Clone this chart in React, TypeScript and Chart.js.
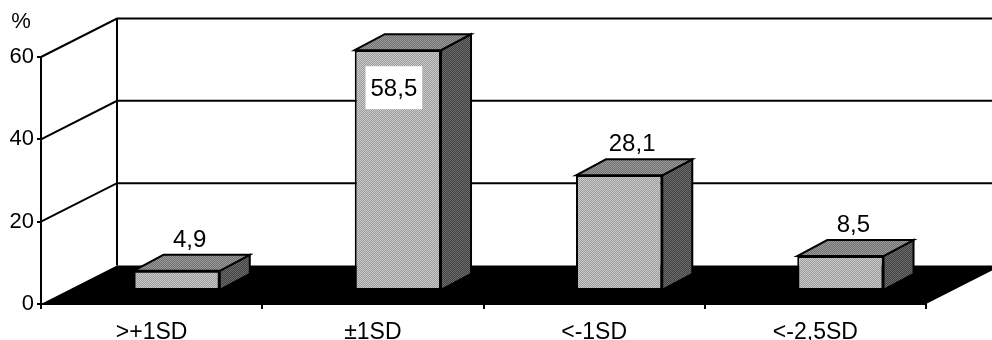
import React, { useEffect, useRef } from "react";
import { Chart, registerables } from "chart.js";

Chart.register(...registerables);

// Share of children per SD band
const categories = [">+1SD", "±1SD", "<-1SD", "<-2,5SD"];
const percentages = [4.9, 58.5, 28.1, 8.5];
const yTickValues = [0, 20, 40, 60];
const yUnit = "%";

const FONT = '"Liberation Sans", Arial, Helvetica, sans-serif';
const AXIS_FONT_SIZE = 22;
const CATEGORY_FONT_SIZE = 23;
const LABEL_FONT_SIZE = 24;

// Depth of the floor / side wall box (screen offset of the back plane)
const WALL_DX = 76;
const WALL_DY = -38.5;
// Bars stand inside the box: front face shift, then their own depth
const BAR_SHIFT_X = 25;
const BAR_SHIFT_Y = -13;
const BAR_DX = 30;
const BAR_DY = -16;

const formatValue = (v: number) => v.toFixed(1).replace(".", ",");

function dither(a: string, b: string): CanvasPattern | string {
  const c = document.createElement("canvas");
  c.width = 2;
  c.height = 2;
  const g = c.getContext("2d");
  if (!g) return a;
  g.fillStyle = a;
  g.fillRect(0, 0, 2, 2);
  g.fillStyle = b;
  g.fillRect(0, 0, 1, 1);
  g.fillRect(1, 1, 1, 1);
  return g.createPattern(c, "repeat") || a;
}

export default function App() {
  const canvasRef = useRef<HTMLCanvasElement | null>(null);

  useEffect(() => {
    const canvas = canvasRef.current;
    if (!canvas) return;

    const frontFill = dither("#9c9c9c", "#cacaca");
    const topFill = dither("#707070", "#9a9a9a");
    const sideFill = dither("#424242", "#6c6c6c");

    const box3d = {
      id: "box3d",
      beforeDatasetsDraw(chart: any) {
        const { ctx, chartArea, scales } = chart;
        const y = scales.y;
        const left = chartArea.left;
        const right = chartArea.right;
        const y0 = y.getPixelForValue(0);
        const yMax = y.getPixelForValue(yTickValues[yTickValues.length - 1]);

        ctx.save();
        // floor
        ctx.fillStyle = "#000";
        ctx.beginPath();
        ctx.moveTo(left, y0);
        ctx.lineTo(left + WALL_DX, y0 + WALL_DY);
        ctx.lineTo(right + WALL_DX, y0 + WALL_DY);
        ctx.lineTo(right, y0);
        ctx.closePath();
        ctx.fill();

        // side wall and back wall grid
        ctx.strokeStyle = "#000";
        ctx.lineWidth = 2;
        ctx.beginPath();
        ctx.moveTo(left + WALL_DX, yMax + WALL_DY);
        ctx.lineTo(left + WALL_DX, y0 + WALL_DY);
        for (const v of yTickValues) {
          if (v === 0) continue;
          const py = y.getPixelForValue(v);
          ctx.moveTo(left, py);
          ctx.lineTo(left + WALL_DX, py + WALL_DY);
          ctx.lineTo(right + WALL_DX, py + WALL_DY);
        }
        ctx.stroke();

        // unit above the value axis
        ctx.fillStyle = "#000";
        ctx.font = `${AXIS_FONT_SIZE}px ${FONT}`;
        ctx.textAlign = "center";
        ctx.textBaseline = "middle";
        ctx.fillText(yUnit, 21, 22);
        ctx.restore();

        // front faces are drawn by the bar controller in the shifted plane
        ctx.save();
        ctx.translate(BAR_SHIFT_X, BAR_SHIFT_Y);
      },
      afterDatasetsDraw(chart: any) {
        const { ctx, chartArea } = chart;
        ctx.restore();

        const meta = chart.getDatasetMeta(0);
        const values = chart.data.datasets[0].data as number[];
        ctx.save();
        ctx.strokeStyle = "#000";
        ctx.lineWidth = 2;
        ctx.lineJoin = "miter";
        meta.data.forEach((el: any, i: number) => {
          const fx = el.x + BAR_SHIFT_X;
          const half = el.width / 2;
          const l = fx - half;
          const r = fx + half;
          const top = el.y + BAR_SHIFT_Y;
          const bot = el.base + BAR_SHIFT_Y;

          // right side
          ctx.fillStyle = sideFill;
          ctx.beginPath();
          ctx.moveTo(r, top);
          ctx.lineTo(r + BAR_DX, top + BAR_DY);
          ctx.lineTo(r + BAR_DX, bot + BAR_DY);
          ctx.lineTo(r, bot);
          ctx.closePath();
          ctx.fill();
          ctx.stroke();

          // top
          ctx.fillStyle = topFill;
          ctx.beginPath();
          ctx.moveTo(l, top);
          ctx.lineTo(l + BAR_DX, top + BAR_DY);
          ctx.lineTo(r + BAR_DX, top + BAR_DY);
          ctx.lineTo(r, top);
          ctx.closePath();
          ctx.fill();
          ctx.stroke();

          // value label
          const text = formatValue(values[i]);
          ctx.font = `${LABEL_FONT_SIZE}px ${FONT}`;
          ctx.textAlign = "center";
          ctx.textBaseline = "alphabetic";
          const capH = LABEL_FONT_SIZE * 0.72;
          const baseline = top + BAR_DY - 8;
          const wallTop = chartArea.top + WALL_DY;
          if (baseline - capH < wallTop) {
            // no room above: put it on the front face in a white box
            const w = ctx.measureText(text).width + 10;
            const h = 43;
            const cx = fx - 4;
            const by = top + 16;
            ctx.fillStyle = "#fff";
            ctx.fillRect(cx - w / 2, by, w, h);
            ctx.fillStyle = "#000";
            ctx.fillText(text, cx, by + h / 2 + capH / 2);
          } else {
            ctx.fillStyle = "#000";
            ctx.fillText(text, fx + BAR_DX / 2 - 2, baseline);
          }
        });
        ctx.restore();
      },
    };

    const chart = new Chart(canvas, {
      type: "bar",
      data: {
        labels: categories,
        datasets: [
          {
            data: percentages,
            backgroundColor: frontFill as any,
            borderColor: "#000",
            borderWidth: 2,
            borderSkipped: false,
            categoryPercentage: 1,
            barPercentage: 0.39,
            clip: false as any,
          },
        ],
      },
      options: {
        responsive: false,
        animation: false,
        devicePixelRatio: 1,
        events: [],
        layout: { padding: { left: 0, right: 66, top: 57, bottom: 0 } },
        plugins: {
          legend: { display: false },
          tooltip: { enabled: false },
          title: { display: false },
        },
        scales: {
          x: {
            offset: true,
            grid: {
              offset: true,
              drawOnChartArea: false,
              drawTicks: true,
              tickLength: 5,
              color: "#000",
              lineWidth: 2,
            },
            border: { display: true, color: "#000", width: 2 },
            ticks: {
              color: "#000",
              font: { family: FONT, size: CATEGORY_FONT_SIZE },
              padding: 10,
              maxRotation: 0,
              autoSkip: false,
            },
            afterFit: (s: any) => {
              s.height = 36;
            },
          },
          y: {
            min: 0,
            max: 60,
            afterBuildTicks: (s: any) => {
              s.ticks = yTickValues.map((v) => ({ value: v }));
            },
            grid: {
              drawOnChartArea: false,
              drawTicks: true,
              tickLength: 4,
              color: "#000",
              lineWidth: 2,
            },
            border: { display: true, color: "#000", width: 2 },
            ticks: {
              color: "#000",
              font: { family: FONT, size: AXIS_FONT_SIZE },
              padding: 3,
            },
            afterFit: (s: any) => {
              s.width = 41;
            },
          },
        },
      },
      plugins: [box3d],
    });

    return () => chart.destroy();
  }, []);

  return (
    <div style={{ position: "fixed", left: 0, top: 0, width: 992, height: 340, background: "#fff" }}>
      <canvas ref={canvasRef} width={992} height={340} style={{ display: "block", width: 992, height: 340 }} />
    </div>
  );
}
